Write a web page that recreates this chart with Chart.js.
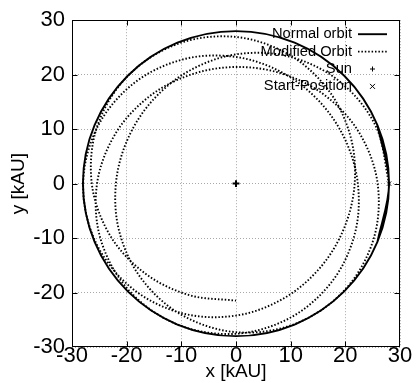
<!DOCTYPE html>
<html><head><meta charset="utf-8">
<script src="https://cdn.jsdelivr.net/npm/chart.js@4.4.1/dist/chart.umd.min.js"></script>
<style>html,body{margin:0;padding:0;background:#fff}#wrap{width:418px;height:383px}</style>
</head><body><div id="wrap"><canvas id="c" width="418" height="383"></canvas></div>
<script>
// ---- data ----
const xTicks = [-30, -20, -10, 0, 10, 20, 30];
const yTicks = [-30, -20, -10, 0, 10, 20, 30];
const seriesLabels = ['Normal orbit', 'Modified Orbit', 'Sun', 'Start-Position'];
const axisTitles = { x: 'x [kAU]', y: 'y [kAU]' };

// normal (circular) orbit, r ~ 28
const normalX = [25.87, 28, 25.87, 19.80, 10.72, 0, -10.72, -19.80, -25.87, -28, -25.87, -19.80, -10.72, 0, 10.72, 19.80, 25.87, 28, 25.87];
const normalY = [-10.72, 0, 10.72, 19.80, 25.87, 28, 25.87, 19.80, 10.72, 0, -10.72, -19.80, -25.87, -28, -25.87, -19.80, -10.72, 0, 10.72];

// modified (precessing) orbit
const modX = [28.0, 25.55, 18.85, 9.66, 0, -8.58, -15.27, -19.80, -21.97, -21.34, -17.37, -9.98, 0, 10.69, 19.72, 25.10,
  25.91, 22.54, 16.23, 8.37, 0, -8.29, -15.94, -22.07, -25.42, -24.75, -19.60, -10.72, 0, 10.15, 17.74, 21.78,
  22.29, 19.89, 15.17, 8.45, 0, -9.47, -18.54, -25.30, -27.96, -25.72, -19.13, -9.86, 0, 8.73, 15.41, 19.77,
  21.71, 20.94, 17.01, 9.79, 0, -10.63, -19.78, -25.39, -26.38, -23.02, -16.55, -8.49, 0];
const modY = [0, 10.58, 18.85, 23.33, 23.73, 20.70, 15.27, 8.20, 0, -8.84, -17.37, -24.09, -27.28, -25.80, -19.72, -10.40,
  0, 9.34, 16.23, 20.21, 21.41, 20.00, 15.94, 9.14, 0, -10.25, -19.60, -25.87, -27.57, -24.50, -17.74, -9.02,
  0, 8.24, 15.17, 20.39, 23.25, 22.86, 18.54, 10.48, 0, -10.65, -19.13, -23.80, -24.23, -21.07, -15.41, -8.19,
  0, 8.68, 17.01, 23.63, 26.92, 25.67, 19.78, 10.52, 0, -9.54, -16.55, -20.49, -21.49];

const sunX = [0], sunY = [0];
const startX = [28], startY = [0];

// ---- chart ----
const pts = (xs, ys) => xs.map((x, i) => ({ x: x, y: ys[i] }));
const FONT = 'Liberation Sans';

const framePlugin = {
  id: 'frame',
  afterDatasetsDraw(chart) {
    const { ctx, chartArea: a, scales } = chart;
    ctx.save();
    ctx.strokeStyle = '#000';
    ctx.lineWidth = 1;
    ctx.setLineDash([]);
    const L = Math.round(a.left) + 0.5, R = Math.round(a.right) - 0.5;
    const T = Math.round(a.top) + 0.5, B = Math.round(a.bottom) - 0.5;
    ctx.strokeRect(L, T, R - L, B - T);
    ctx.beginPath();
    const tl = 5;
    xTicks.forEach(v => {
      if (v === xTicks[0] || v === xTicks[xTicks.length - 1]) return;
      const p = Math.round(scales.x.getPixelForValue(v)) + 0.5;
      ctx.moveTo(p, B); ctx.lineTo(p, B - tl);
      ctx.moveTo(p, T); ctx.lineTo(p, T + tl);
    });
    yTicks.forEach(v => {
      if (v === yTicks[0] || v === yTicks[yTicks.length - 1]) return;
      const p = Math.round(scales.y.getPixelForValue(v)) + 0.5;
      ctx.moveTo(L, p); ctx.lineTo(L + tl, p);
      ctx.moveTo(R, p); ctx.lineTo(R - tl, p);
    });
    ctx.stroke();
    ctx.restore();
  }
};

const keyPlugin = {
  id: 'key',
  afterDraw(chart) {
    const { ctx, chartArea: a } = chart;
    const textRight = a.right - 48;
    const sx0 = a.right - 42, sx1 = a.right - 13, cx = (sx0 + sx1) / 2;
    ctx.save();
    chart.data.datasets.forEach((ds, i) => {
      const y = a.top + 14 + i * 17.4;
      ctx.font = '14.7px "' + FONT + '"';
      ctx.fillStyle = '#000';
      ctx.textAlign = 'right';
      ctx.textBaseline = 'middle';
      ctx.fillText(ds.label, textRight, y);
      ctx.strokeStyle = '#000';
      if (ds.showLine) {
        ctx.lineWidth = ds.borderWidth;
        ctx.setLineDash(ds.borderDash || []);
        ctx.beginPath(); ctx.moveTo(sx0, y); ctx.lineTo(sx1, y); ctx.stroke();
        ctx.setLineDash([]);
      } else {
        const s = 2.5;
        ctx.lineWidth = 1;
        ctx.beginPath();
        if (ds.pointStyle === 'cross') {
          ctx.moveTo(cx - s, y); ctx.lineTo(cx + s, y);
          ctx.moveTo(cx, y - s); ctx.lineTo(cx, y + s);
        } else {
          ctx.moveTo(cx - s, y - s); ctx.lineTo(cx + s, y + s);
          ctx.moveTo(cx + s, y - s); ctx.lineTo(cx - s, y + s);
        }
        ctx.stroke();
      }
    });
    ctx.restore();
  }
};

new Chart(document.getElementById('c'), {
  type: 'scatter',
  data: {
    datasets: [
      { label: seriesLabels[0], data: pts(normalX, normalY), showLine: true, borderColor: '#000', borderWidth: 1.9,
        pointRadius: 0, tension: 0.34, fill: false },
      { label: seriesLabels[1], data: pts(modX, modY), showLine: true, borderColor: '#000', borderWidth: 1.9,
        borderDash: [1.5, 1.9], pointRadius: 0, tension: 0.34, fill: false },
      { label: seriesLabels[2], data: pts(sunX, sunY), pointStyle: 'cross', pointRadius: 3.4, pointBorderWidth: 2,
        borderColor: '#000', backgroundColor: '#000' },
      { label: seriesLabels[3], data: pts(startX, startY), pointStyle: 'crossRot', pointRadius: 3, pointBorderWidth: 1,
        borderColor: '#000', backgroundColor: '#000' }
    ]
  },
  options: {
    responsive: false, animation: false, events: [],
    layout: { padding: { top: 17, right: 18, left: 0, bottom: 0 } },
    plugins: { legend: { display: false }, tooltip: { enabled: false } },
    scales: {
      x: {
        type: 'linear', min: -30, max: 30,
        afterBuildTicks: s => { s.ticks = xTicks.map(v => ({ value: v })); },
        afterFit: s => { s.height = 36; },
        ticks: { font: { family: FONT, size: 22, lineHeight: 0.82 }, color: '#000', padding: 0, maxRotation: 0, autoSkip: false },
        grid: { color: '#a8a8a8', lineWidth: 1, drawTicks: false },
        border: { display: false, dash: [1, 2] },
        title: { display: true, text: axisTitles.x, font: { family: FONT, size: 19 }, color: '#000', padding: { top: 0, bottom: 0 } }
      },
      y: {
        type: 'linear', min: -30, max: 30,
        afterBuildTicks: s => { s.ticks = yTicks.map(v => ({ value: v })); },
        afterFit: s => { s.width = 72; },
        ticks: { font: { family: FONT, size: 22 }, color: '#000', padding: 7, autoSkip: false },
        grid: { color: '#a8a8a8', lineWidth: 1, drawTicks: false },
        border: { display: false, dash: [1, 2] },
        title: { display: true, text: axisTitles.y, font: { family: FONT, size: 19 }, color: '#000', padding: { top: 7, bottom: 0 } }
      }
    }
  },
  plugins: [framePlugin, keyPlugin]
});
</script>
</body></html>
